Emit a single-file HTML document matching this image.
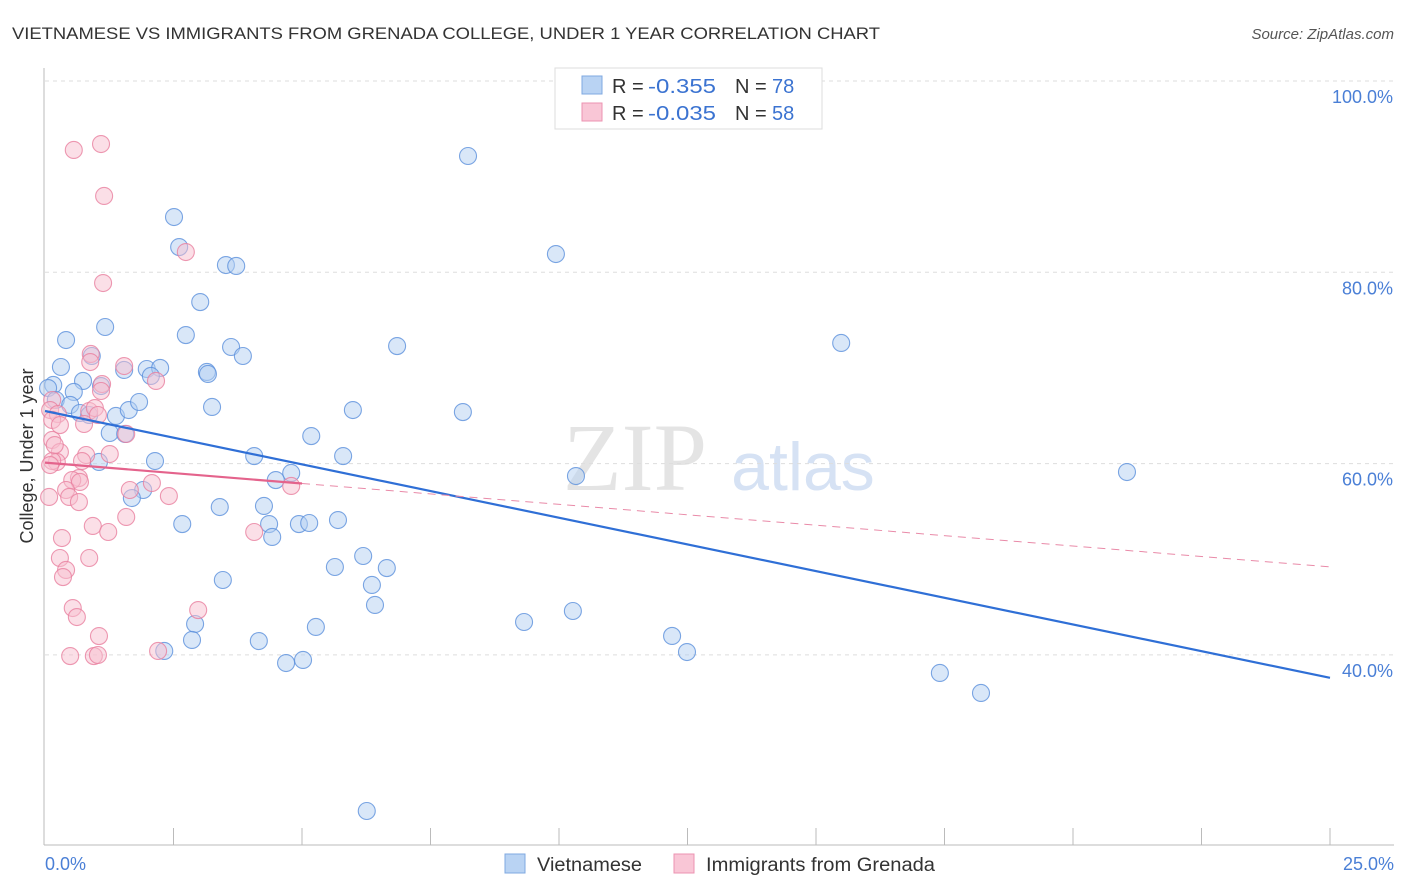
<!DOCTYPE html>
<html><head><meta charset="utf-8"><style>
body{margin:0;background:#fff;font-family:"Liberation Sans",sans-serif;}
svg{display:block}
</style></head><body>
<svg id="chart" width="1406" height="892" xmlns="http://www.w3.org/2000/svg">
<text x="12" y="39" font-size="17" fill="#333" textLength="868" lengthAdjust="spacingAndGlyphs">VIETNAMESE VS IMMIGRANTS FROM GRENADA COLLEGE, UNDER 1 YEAR CORRELATION CHART</text>
<text x="1394" y="39" font-size="15" fill="#555" font-style="italic" text-anchor="end">Source: ZipAtlas.com</text>
<text x="635" y="490" font-size="96" fill="#e4e4e4" font-family="Liberation Serif" text-anchor="middle">ZIP</text>
<text x="803" y="490" font-size="68" fill="#d6e2f4" text-anchor="middle">atlas</text>
<g id="grid"></g><g id="axes"></g><g id="pts"></g><g id="trend"></g>
<text x="33" y="456" font-size="18" fill="#333" transform="rotate(-90 33 456)" text-anchor="middle">College, Under 1 year</text>
<text x="45" y="870" font-size="18" fill="#4a7fd6">0.0%</text>
<text x="1394" y="870" font-size="18" fill="#4a7fd6" text-anchor="end">25.0%</text>
<g>
<rect x="555" y="68" width="267" height="61" fill="#fff" stroke="#ddd"/>
<rect x="582" y="76" width="20" height="18" fill="#b9d3f3" stroke="#7fa8e0"/>
<rect x="582" y="103" width="20" height="18" fill="#f9c6d6" stroke="#ec93b1"/>
<text x="612" y="93" font-size="20" fill="#333">R = </text><text x="648" y="93" font-size="20" fill="#3b73d1" textLength="68" lengthAdjust="spacingAndGlyphs">-0.355</text>
<text x="735" y="93" font-size="20" fill="#333">N = </text><text x="772" y="93" font-size="20" fill="#3b73d1">78</text>
<text x="612" y="120" font-size="20" fill="#333">R = </text><text x="648" y="120" font-size="20" fill="#3b73d1" textLength="68" lengthAdjust="spacingAndGlyphs">-0.035</text>
<text x="735" y="120" font-size="20" fill="#333">N = </text><text x="772" y="120" font-size="20" fill="#3b73d1">58</text>
</g>
<g>
<rect x="505" y="854" width="20" height="19" fill="#b9d3f3" stroke="#7fa8e0"/>
<text x="537" y="871" font-size="19" fill="#333" textLength="105" lengthAdjust="spacingAndGlyphs">Vietnamese</text>
<rect x="674" y="854" width="20" height="19" fill="#f9c6d6" stroke="#ec93b1"/>
<text x="706" y="871" font-size="19" fill="#333" textLength="229" lengthAdjust="spacingAndGlyphs">Immigrants from Grenada</text>
</g>
</svg>
<script>
const yTicks=[100,80,60,40];
const xTickCount=10;
const blueX=[8.23,9.94,2.51,2.61,3.52,3.72,3.02,2.74,1.17,0.41,0.31,0.91,1.54,1.98,2.24,3.62,3.85,3.15,3.17,2.06,6.85,15.49,0.16,0.06,0.74,1.09,0.56,0.21,0.49,0.68,0.86,1.38,1.63,1.83,3.25,5.99,8.13,1.26,5.18,1.05,2.14,4.07,5.80,4.79,4.49,10.33,21.05,1.91,1.69,3.40,4.26,2.67,4.36,4.94,5.14,5.70,4.42,6.19,5.64,6.65,6.36,6.42,3.46,10.27,9.32,2.92,5.27,2.86,4.16,2.32,12.20,12.49,4.69,5.02,17.41,18.21,6.26,1.56];
const blueY=[92.16,81.91,85.78,82.64,80.76,80.66,76.89,73.44,74.28,72.92,70.10,71.25,69.79,69.89,70.00,72.19,71.25,69.58,69.37,69.16,72.29,72.61,68.22,67.90,68.64,68.11,67.49,66.65,66.13,65.29,65.08,64.98,65.60,66.44,65.92,65.60,65.39,63.20,62.88,60.17,60.27,60.79,60.79,59.02,58.28,58.70,59.12,57.24,56.40,55.46,55.57,53.68,53.68,53.68,53.79,54.10,52.33,50.34,49.19,49.08,47.31,45.22,47.83,44.59,43.44,43.23,42.92,41.56,41.45,40.41,41.98,40.30,39.15,39.47,38.11,36.02,23.68,63.10];
const pinkX=[0.56,1.09,1.15,2.74,1.13,0.89,0.88,1.54,2.16,1.11,1.09,0.14,0.10,0.25,0.86,0.76,0.14,0.14,0.29,0.23,0.14,0.80,1.26,0.72,0.66,0.53,0.68,2.08,0.41,0.47,2.41,0.66,0.08,0.93,1.58,1.23,4.07,0.33,0.86,0.29,0.41,0.35,4.79,2.98,0.54,0.62,1.05,0.49,0.95,1.03,2.20,0.29,0.97,1.03,1.58,0.19,0.10,1.65];
const pinkY=[92.79,93.41,87.98,82.12,78.88,71.46,70.62,70.20,68.64,68.32,67.59,66.65,65.60,65.18,65.50,64.14,64.56,62.47,61.21,60.17,60.27,60.90,61.00,60.27,58.49,58.28,58.08,57.97,57.24,56.51,56.61,55.98,56.51,53.48,54.42,52.85,52.85,52.22,50.13,50.13,48.88,48.14,57.66,44.69,44.90,43.96,41.97,39.88,39.88,39.99,40.41,64.03,65.81,65.08,63.10,61.94,59.85,57.24];
const blueTrend=[65.5,37.6];
const pinkTrend=[60.1,49.2];
const pinkSolidEnd=5.0;
const NS="http://www.w3.org/2000/svg";
const X0=45,X1=1330,XMAX=25;
function sx(v){return X0+(X1-X0)*v/XMAX;}
function sy(v){return 81+(100-v)*191.3/20;}
function mk(tag,attrs,parent){const e=document.createElementNS(NS,tag);for(const k in attrs)e.setAttribute(k,attrs[k]);parent.appendChild(e);return e;}
const grid=document.getElementById('grid'),axes=document.getElementById('axes'),pts=document.getElementById('pts'),trend=document.getElementById('trend');
yTicks.forEach(t=>{
 const l=mk('line',{x1:45,x2:1394,y1:sy(t),y2:sy(t),stroke:'#ddd','stroke-dasharray':'4,4'},grid);
 
 
 const tx=mk('text',{x:1393,y:sy(t)+22,'font-size':18,fill:'#4a7fd6','text-anchor':'end'},grid);
 tx.textContent=t.toFixed(1)+'%';
 
 
});
const ya=mk('line',{x1:44,x2:44,y1:68,y2:845,stroke:'#bbb'},axes);


const xa=mk('line',{x1:44,x2:1394,y1:845,y2:845,stroke:'#bbb'},axes);


for(let i=1;i<=xTickCount;i++){
 const t=mk('line',{x1:sx(i*XMAX/xTickCount),x2:sx(i*XMAX/xTickCount),y1:828,y2:845,stroke:'#bbb'},axes);
 
 
}
function drawPts(xs,ys,fill,stroke,name){
 xs.forEach((x,i)=>{
  const c=mk('circle',{cx:sx(x),cy:sy(ys[i]),r:8.5,fill:fill,'fill-opacity':0.5,stroke:stroke,'stroke-opacity':0.8,'stroke-width':1.1},pts);
  
  
 });
}
drawPts(blueX,blueY,'#b3cff2','#5b90dc','vietnamese-point');
drawPts(pinkX,pinkY,'#f8bfd0','#e9809f','grenada-point');
const bl=mk('line',{x1:sx(0),y1:sy(blueTrend[0]),x2:sx(XMAX),y2:sy(blueTrend[1]),stroke:'#2f6fd6','stroke-width':2.2},trend);


const pAt=v=>pinkTrend[0]+(pinkTrend[1]-pinkTrend[0])*v/XMAX;
const ps=mk('line',{x1:sx(0),y1:sy(pinkTrend[0]),x2:sx(pinkSolidEnd),y2:sy(pAt(pinkSolidEnd)),stroke:'#e4638c','stroke-width':2.2},trend);


const pd=mk('line',{x1:sx(pinkSolidEnd),y1:sy(pAt(pinkSolidEnd)),x2:sx(XMAX),y2:sy(pinkTrend[1]),stroke:'#e98aa8','stroke-width':1,'stroke-dasharray':'8,6'},trend);


</script>
</body></html>
